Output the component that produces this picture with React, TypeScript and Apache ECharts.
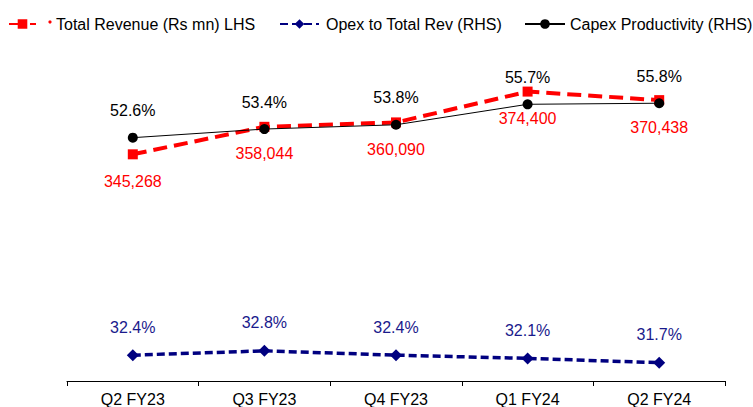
import React, { useEffect, useRef } from "react";
import * as echarts from "echarts";

const categories = ["Q2 FY23", "Q3 FY23", "Q4 FY23", "Q1 FY24", "Q2 FY24"];
const totalRevenue = [345268, 358044, 360090, 374400, 370438];
const opexToRev = [32.4, 32.8, 32.4, 32.1, 31.7];
const capexProductivity = [52.6, 53.4, 53.8, 55.7, 55.8];

const seriesNames = [
  "Total Revenue (Rs mn) LHS",
  "Opex to Total Rev (RHS)",
  "Capex Productivity (RHS)",
];

const FONT = "'Liberation Sans', Arial, sans-serif";

export default function App() {
  const ref = useRef<HTMLDivElement>(null);
  useEffect(() => {
    if (!ref.current) return;
    const chart = echarts.init(ref.current, undefined, { renderer: "svg" });
    const legendBase = {
      top: 16,
      padding: 0,
      itemHeight: 12,
      textStyle: { fontSize: 16, color: "#000", fontFamily: FONT },
      selectedMode: false,
    };
    chart.setOption({
      animation: false,
      backgroundColor: "#fff",
      textStyle: { fontFamily: FONT },
      legend: [
        {
          ...legendBase,
          left: 8,
          itemWidth: 27,
          data: [seriesNames[0]],
          textStyle: { ...legendBase.textStyle, padding: [0, 0, 0, 15] },
        },
        {
          ...legendBase,
          left: 279,
          itemWidth: 39,
          data: [seriesNames[1]],
          textStyle: { ...legendBase.textStyle, padding: [0, 0, 0, 2] },
        },
        {
          ...legendBase,
          left: 524,
          itemWidth: 40,
          data: [seriesNames[2]],
        },
      ],
      graphic: [
        {
          type: "circle",
          shape: { cx: 50, cy: 22, r: 1.6 },
          style: { fill: "#ff0000" },
        },
      ],
      grid: { left: 67, right: 28, top: 58, bottom: 25, containLabel: false },
      xAxis: {
        type: "category",
        data: categories,
        boundaryGap: true,
        axisLine: { show: true, lineStyle: { color: "#000", width: 1 } },
        axisTick: { show: true, alignWithLabel: false, length: 5, lineStyle: { color: "#000" } },
        axisLabel: { fontSize: 16, color: "#000", margin: 10, fontFamily: FONT },
        splitLine: { show: false },
      },
      yAxis: [
        { type: "value", min: 240000, max: 390000, show: false, splitLine: { show: false } },
        { type: "value", min: 30, max: 60, show: false, splitLine: { show: false } },
      ],
      series: [
        {
          name: seriesNames[0],
          type: "line",
          yAxisIndex: 0,
          data: totalRevenue,
          color: "#ff0000",
          symbol: "rect",
          symbolSize: 10,
          lineStyle: { color: "#ff0000", width: 4, type: [14, 7] },
          itemStyle: { color: "#ff0000" },
          label: {
            show: true,
            position: "bottom",
            distance: 14,
            color: "#ff0000",
            fontSize: 16,
            fontFamily: FONT,
            formatter: (p: any) => Number(p.value).toLocaleString("en-US"),
          },
          z: 2,
        },
        {
          name: seriesNames[1],
          type: "line",
          yAxisIndex: 1,
          data: opexToRev,
          color: "#000080",
          symbol: "diamond",
          symbolSize: 12,
          lineStyle: { color: "#000080", width: 3.5, type: [8, 4] },
          itemStyle: { color: "#000080" },
          label: {
            show: true,
            position: "top",
            distance: 14,
            color: "#1a1a8c",
            fontSize: 16,
            fontFamily: FONT,
            formatter: (p: any) => Number(p.value).toFixed(1) + "%",
          },
          z: 3,
        },
        {
          name: seriesNames[2],
          type: "line",
          yAxisIndex: 1,
          data: capexProductivity,
          color: "#000",
          symbol: "circle",
          symbolSize: 10,
          lineStyle: { color: "#000", width: 1 },
          itemStyle: { color: "#000" },
          label: {
            show: true,
            position: "top",
            distance: 14,
            color: "#000",
            fontSize: 16,
            fontFamily: FONT,
            formatter: (p: any) => Number(p.value).toFixed(1) + "%",
          },
          z: 4,
        },
      ],
    });
    return () => chart.dispose();
  }, []);
  return (
    <div
      ref={ref}
      style={{ position: "absolute", left: 0, top: 0, width: 753, height: 407 }}
    />
  );
}
